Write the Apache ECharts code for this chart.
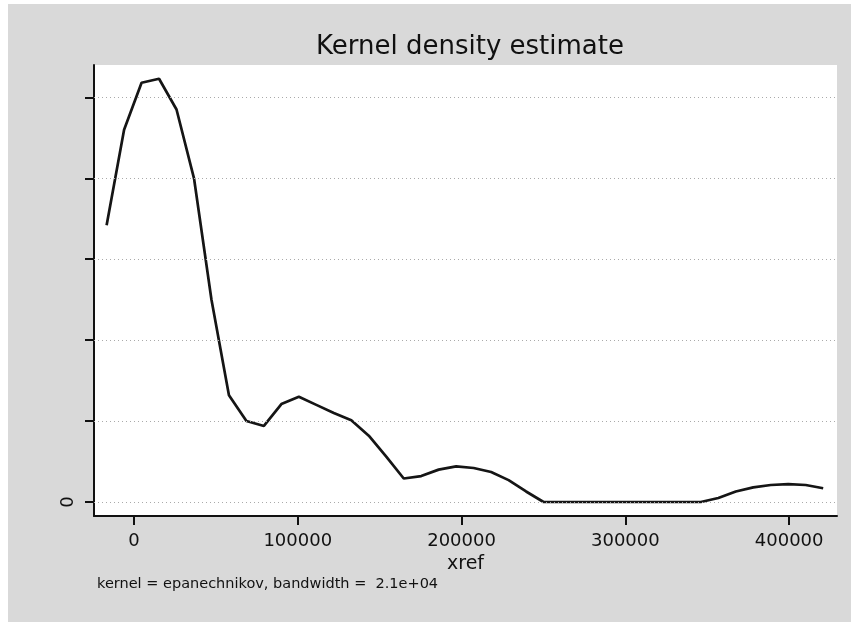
<!DOCTYPE html>
<html>
<head>
<meta charset="utf-8">
<script src="https://cdn.jsdelivr.net/npm/echarts@6/dist/echarts.min.js"></script>
<style>
  html, body { margin: 0; padding: 0; background: #fff; }
  #main { width: 851px; height: 622px; }
</style>
</head>
<body>
<div id="main"></div>
<script>
  // grid points of the density estimate (xref)
  const xref = [-16700, -6030, 4640, 15310, 25980, 36650, 47320, 57990, 68660, 79330,
    90000, 100670, 111340, 122010, 132680, 143350, 154020, 164690, 175360, 186030,
    196700, 207370, 218040, 228710, 239380, 250050, 260720, 271390, 282060, 292730,
    303400, 314070, 324740, 335410, 346080, 356750, 367420, 378090, 388760, 399430,
    410100, 420770]
  // density, in units of one y tick step
  const density = [3.42, 4.60, 5.18, 5.23, 4.85, 4.00, 2.50, 1.32, 1.00, 0.94,
    1.21, 1.30, 1.20, 1.10, 1.01, 0.82, 0.56, 0.29, 0.32, 0.40,
    0.44, 0.42, 0.37, 0.27, 0.13, 0, 0, 0, 0, 0,
    0, 0, 0, 0, 0, 0.05, 0.13, 0.18, 0.21, 0.22,
    0.21, 0.17]
  const xTicks = [0, 100000, 200000, 300000, 400000]
  const yTicks = [0, 1, 2, 3, 4, 5]
  const yLabels = [0]

  const font = 'DejaVu Sans'
  let myChart = echarts.init(document.getElementById('main'))
  myChart.setOption({
    backgroundColor: '#ffffff',
    animation: false,
    title: {
      text: 'Kernel density estimate',
      left: 465,
      top: 29,
      textAlign: 'center',
      textStyle: { fontFamily: font, fontSize: 26, fontWeight: 'normal', color: '#111' }
    },
    graphic: [
      { type: 'rect', z: -10, shape: { x: 8, y: 4, width: 843, height: 618 }, style: { fill: '#d9d9d9' } },
      { type: 'rect', z: -9, shape: { x: 94, y: 65, width: 743, height: 451 }, style: { fill: '#ffffff' } },
      {
        type: 'text', left: 97, top: 577,
        style: { text: 'kernel = epanechnikov, bandwidth =  2.1e+04', fontFamily: font, fontSize: 14.5, fill: '#111' }
      }
    ],
    grid: { left: 94, right: 14, top: 65, bottom: 106 },
    xAxis: {
      type: 'value',
      min: -24400,
      max: 429200,
      name: 'xref',
      nameLocation: 'middle',
      nameGap: 37,
      nameTextStyle: { fontFamily: font, fontSize: 19, color: '#111' },
      axisLine: { onZero: false, lineStyle: { color: '#111', width: 2 } },
      axisTick: { show: true, length: 9, customValues: xTicks, lineStyle: { color: '#111', width: 2 } },
      axisLabel: {
        customValues: xTicks, margin: 16, fontFamily: font, fontSize: 18, color: '#111',
        formatter: v => String(v)
      },
      splitLine: { show: false }
    },
    yAxis: {
      type: 'value',
      min: -0.173,
      max: 5.40,
      axisLine: { show: true, onZero: false, lineStyle: { color: '#111', width: 2 } },
      axisTick: { show: true, length: 9, customValues: yTicks, lineStyle: { color: '#111', width: 2 } },
      axisLabel: {
        customValues: yLabels, rotate: 90, margin: 17, fontFamily: font, fontSize: 18, color: '#111',
        formatter: v => String(v)
      },
      splitLine: { show: false }
    },
    series: [
      {
        type: 'line',
        data: [],
        z: 1,
        markLine: {
          silent: true,
          symbol: 'none',
          label: { show: false },
          lineStyle: { color: '#aaaaaa', width: 1, type: [1, 3] },
          data: yTicks.map(v => ({ yAxis: v }))
        }
      },
      {
        type: 'line',
        z: 3,
        data: xref.map((x, i) => [x, density[i]]),
        showSymbol: false,
        lineStyle: { color: '#151515', width: 2.7 }
      }
    ]
  })
</script>
</body>
</html>
